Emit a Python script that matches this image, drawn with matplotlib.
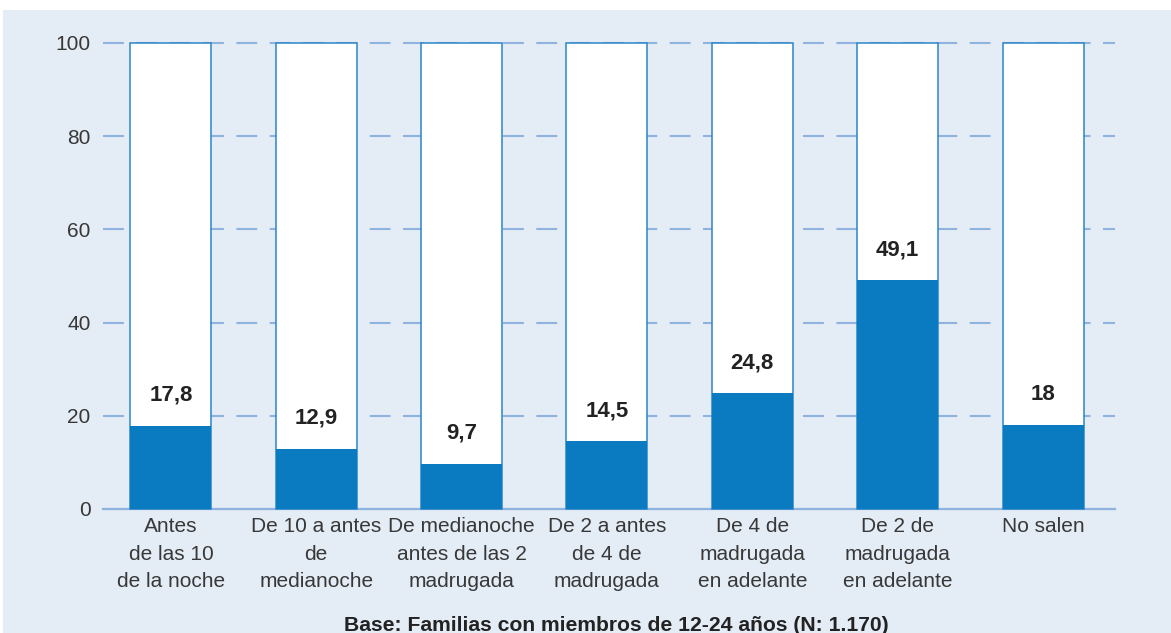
import matplotlib.pyplot as plt
from matplotlib.patches import Rectangle
import numpy as np

plt.rcParams['font.family'] = ['Liberation Sans', 'DejaVu Sans']

categorias = ['Antes\nde las 10\nde la noche', 'De 10 a antes\nde\nmedianoche',
              'De medianoche\nantes de las 2\nmadrugada', 'De 2 a antes\nde 4 de\nmadrugada',
              'De 4 de\nmadrugada\nen adelante', 'De 2 de\nmadrugada\nen adelante', 'No salen']
valores = [17.8, 12.9, 9.7, 14.5, 24.8, 49.1, 18]
etiquetas = ['17,8', '12,9', '9,7', '14,5', '24,8', '49,1', '18']
total = [100] * len(valores)
yticks = [0, 20, 40, 60, 80, 100]

fondo = '#e4ecf6'
azul = '#0a7bc0'
linea = '#8db3de'

fig = plt.figure(figsize=(11.71, 6.33), dpi=100, facecolor='white')
fig.patches.append(Rectangle((3 / 1171, 0), 1, (633 - 10) / 633,
                             transform=fig.transFigure, facecolor=fondo,
                             edgecolor='none', zorder=-10))

ax = fig.add_axes([103 / 1171, (633 - 509) / 633, (1115 - 103) / 1171, (509 - 43) / 633])
ax.set_facecolor('none')

x = np.arange(len(valores))
w = 0.557
ax.bar(x, total, width=w, color='white', edgecolor='#2a86c8', linewidth=1.1,
       zorder=3, clip_on=False)
ax.bar(x, valores, width=w, color=azul, edgecolor='none', zorder=4)

for xi, v, t in zip(x, valores, etiquetas):
    ax.annotate(t, (xi, v), xytext=(0, 22), textcoords='offset points',
                ha='center', va='center', fontsize=16, fontweight='bold',
                color='#222222', zorder=5)

for y in yticks[1:]:
    ax.axhline(y, color=linea, linewidth=1.5, linestyle=(0, (10, 6)), zorder=1,
               clip_on=False)

ax.set_xlim(-0.467, 6.495)
ax.set_ylim(0, 100)
ax.set_yticks(yticks)
ax.set_xticks(x)
ax.set_xticklabels(categorias, fontsize=15, color='#383838', linespacing=1.55)
ax.tick_params(axis='y', length=0, pad=9, labelsize=15, labelcolor='#383838')
ax.tick_params(axis='x', length=0, pad=6)

for s in ['top', 'right', 'left']:
    ax.spines[s].set_visible(False)
ax.spines['bottom'].set_color(linea)
ax.spines['bottom'].set_linewidth(1.6)
ax.spines['bottom'].set_zorder(2)

fig.text(616 / 1171, 0.003, 'Base: Familias con miembros de 12-24 años (N: 1.170)',
         ha='center', va='baseline', fontsize=15.25, fontweight='bold', color='#222222')

fig.savefig('out.png', dpi=100, facecolor='white')
